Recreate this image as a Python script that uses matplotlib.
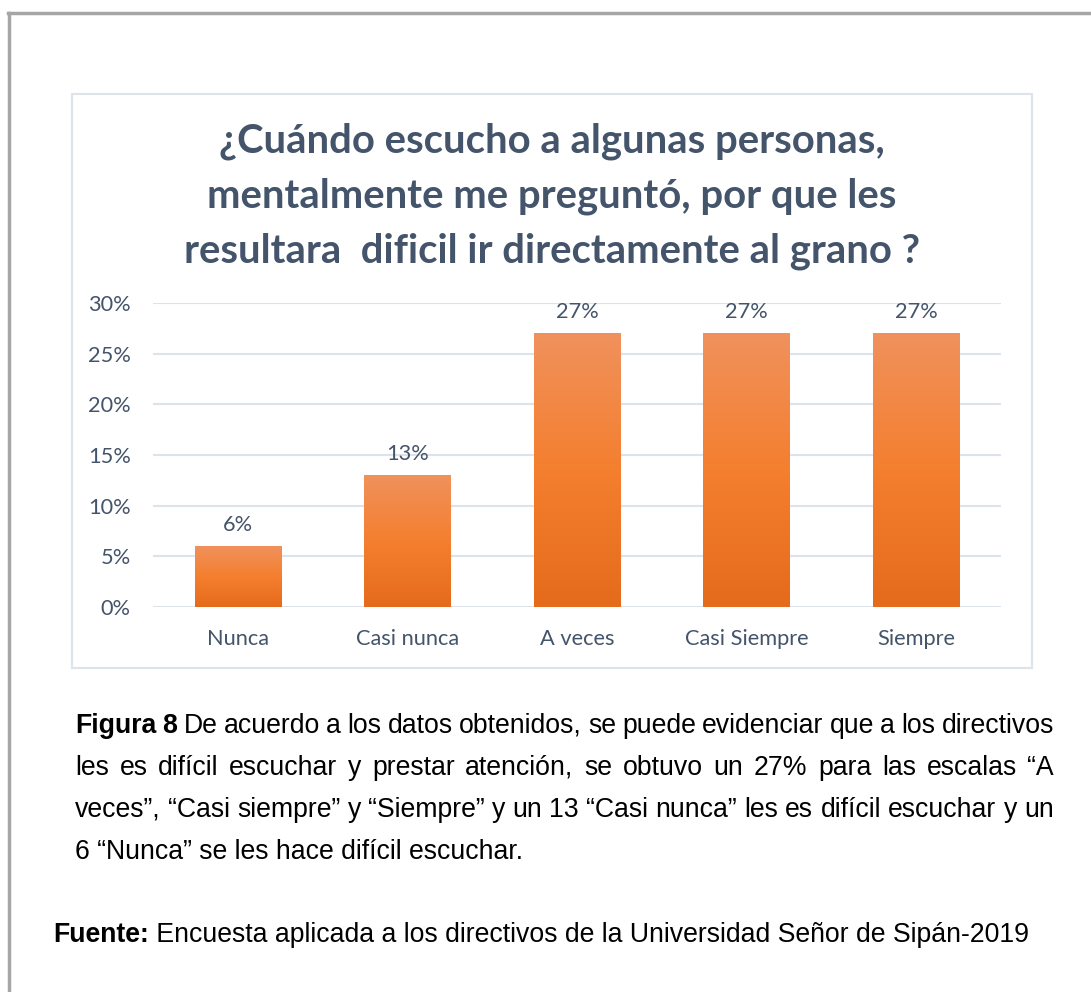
import matplotlib
matplotlib.use("Agg")
import matplotlib.pyplot as plt
from matplotlib.patches import Rectangle
from matplotlib.colors import LinearSegmentedColormap
from matplotlib.lines import Line2D
import numpy as np

# data
categories = ['Nunca', 'Casi nunca', 'A veces', 'Casi Siempre', 'Siempre']
values = [0.06, 0.13, 0.27, 0.27, 0.27]
yticks = [0, 0.05, 0.10, 0.15, 0.20, 0.25, 0.30]
title_lines = ['¿Cuándo escucho a algunas personas,',
               'mentalmente me preguntó, por que les',
               'resultara  dificil ir directamente al grano ?']
caption_lines = [
    [('Figura', True), ('8', True)] + [(w, False) for w in 'De acuerdo a los datos obtenidos, se puede evidenciar que a los directivos'.split()],
    [(w, False) for w in 'les es difícil escuchar y prestar atención, se obtuvo un 27% para las escalas “A'.split()],
    [(w, False) for w in 'veces”, “Casi siempre” y “Siempre” y un 13 “Casi nunca” les es difícil escuchar y un'.split()],
]
caption_last = '6 “Nunca” se les hace difícil escuchar.'
source_bold = 'Fuente:'
source_text = ' Encuesta aplicada a los directivos de la Universidad Señor de Sipán-2019'

W, H = 1091, 992
text_col = '#44546a'
grid_col = '#dde3ea'

fig = plt.figure(figsize=(W / 100, H / 100), dpi=100)
fig.patch.set_facecolor('white')

def fx(px):
    return px / W

def fy(py):
    return 1 - py / H

# outer page frame
fig.add_artist(Line2D([fx(8), 1], [fy(13), fy(13)], color='#a6a6a6', lw=2.5))
fig.add_artist(Line2D([fx(9), fx(9)], [fy(13), 0], color='#a6a6a6', lw=2.5))

# chart box
fig.add_artist(Rectangle((fx(72), fy(668)), fx(1032) - fx(72), fy(94) - fy(668),
                         fill=False, edgecolor=grid_col, lw=1.5))

# title
for i, line in enumerate(title_lines):
    fig.text(fx(552), fy(141 + 55 * i), line, ha='center', va='center',
             fontsize=28.8, fontweight='bold', color=text_col, family='Lato')

ax = fig.add_axes([fx(153), fy(607), fx(1001) - fx(153), fy(303) - fy(607)])
x = np.arange(len(categories))
bar_w = 0.51
cmap = LinearSegmentedColormap.from_list('og', ['#e56b1c', '#f47f2f', '#f0915c'])
grad = np.linspace(0, 1, 256).reshape(-1, 1)

ax.set_xlim(-0.5, len(categories) - 0.5)
ax.set_ylim(0, 0.30)
ax.set_yticks(yticks)
ax.set_yticklabels([f'{int(round(t * 100))}%' for t in yticks])
ax.set_xticks(x)
ax.set_xticklabels(categories)
ax.grid(axis='y', color=grid_col, lw=1.5)
ax.set_axisbelow(True)
for s in ax.spines.values():
    s.set_visible(False)
ax.tick_params(length=0, labelsize=15.7, labelcolor=text_col, pad=16)
ax.tick_params(axis='y', pad=16)
for lab in ax.get_xticklabels() + ax.get_yticklabels():
    lab.set_family('Lato')

bars = ax.bar(x, values, width=bar_w, color='none')
for b, v in zip(bars, values):
    x0 = b.get_x()
    im = ax.imshow(grad, cmap=cmap, aspect='auto', origin='lower',
                   extent=[x0, x0 + bar_w, 0, v], zorder=2)
    im.set_clip_path(b)
    ax.text(b.get_x() + bar_w / 2, v + 0.011, f'{int(round(v * 100))}%',
            ha='center', va='bottom', fontsize=15.7, color=text_col, family='Lato')
ax.set_xlim(-0.5, len(categories) - 0.5)
ax.set_ylim(0, 0.30)

# caption, justified lines
fig.canvas.draw()
renderer = fig.canvas.get_renderer()
cap_fs = 19.2
left, right = 75, 1054
for i, words in enumerate(caption_lines):
    yy = fy(726 + 42 * i)
    objs = []
    for w, bold in words:
        t = fig.text(0, yy, w, ha='left', va='center', fontsize=cap_fs,
                     family='Liberation Sans', fontweight='bold' if bold else 'normal',
                     color='black')
        objs.append(t)
    widths = [t.get_window_extent(renderer).width for t in objs]
    gap = (right - left - sum(widths)) / (len(objs) - 1)
    pos = left
    for t, wd in zip(objs, widths):
        t.set_x(fx(pos))
        pos += wd + gap

fig.text(fx(left), fy(726 + 42 * 3), caption_last, ha='left', va='center',
         fontsize=cap_fs, family='Liberation Sans', color='black')

tb = fig.text(fx(53), fy(935), source_bold, ha='left', va='center', fontsize=cap_fs,
              family='Liberation Sans', fontweight='bold', color='black')
bw = tb.get_window_extent(renderer).width
fig.text(fx(53 + bw), fy(935), source_text, ha='left', va='center', fontsize=cap_fs,
         family='Liberation Sans', color='black')

fig.savefig('out.png', dpi=100, facecolor='white')
